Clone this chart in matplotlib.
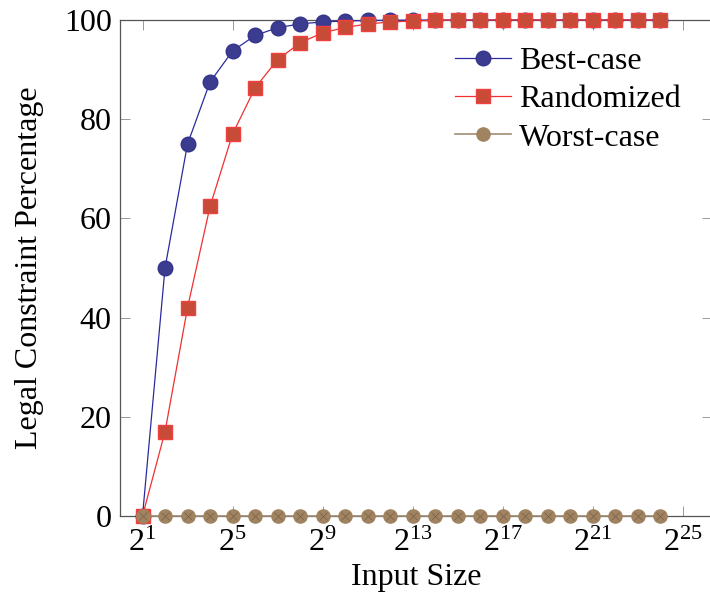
import numpy as np
import matplotlib
matplotlib.use("Agg")
import matplotlib.pyplot as plt

plt.rcParams['font.family'] = ['Liberation Serif', 'DejaVu Serif']
plt.rcParams['mathtext.fontset'] = 'custom'
plt.rcParams['mathtext.rm'] = 'Liberation Serif'
plt.rcParams['mathtext.it'] = 'Liberation Serif:italic'

# Data (x = 2^1 ... 2^24)
exponents = list(range(1, 25))
best_case = [0, 50, 75, 87.5, 93.75, 96.88, 98.44, 99.22, 99.61, 99.80, 99.90, 99.95,
             99.98, 99.99, 100, 100, 100, 100, 100, 100, 100, 100, 100, 100]
randomized = [0, 17.0, 42.0, 62.4, 77.0, 86.3, 92.0, 95.4, 97.4, 98.5, 99.2, 99.6,
              99.8, 99.9, 100, 100, 100, 100, 100, 100, 100, 100, 100, 100]
worst_case = [0] * 24
x = [2.0 ** e for e in exponents]

tick_exps = [1, 5, 9, 13, 17, 21, 25]

fig = plt.figure(figsize=(7.1, 5.98), dpi=100)
ax = fig.add_axes([120 / 710, 82 / 598, 592 / 710, 496 / 598])

ax.plot(x, best_case, color='#2b2b9e', lw=0.9, marker='o', ms=10.5,
        mfc='#3b3b90', mec='#34348a', clip_on=False, zorder=3, label='Best-case')
ax.plot(x, randomized, color='#f03030', lw=0.9, marker='s', ms=9.5,
        mfc='#c84b38', mec='#f04040', mew=1.0, clip_on=False, zorder=4, label='Randomized')
ax.plot(x, worst_case, color='#a08c74', lw=1.2, marker='o', ms=9.5,
        mfc='#a08462', mec='#a08462', clip_on=False, zorder=5, label='Worst-case')
ax.plot(x, worst_case, ls='none', marker='x', ms=6, mec='#806448', mew=0.6,
        clip_on=False, zorder=6)

ax.set_xscale('log', base=2)
ax.set_xlim(2.0 ** 0, 2.0 ** 26.3)
ax.set_ylim(0, 100)
ax.set_xticks([2.0 ** e for e in tick_exps])
ax.set_xticklabels(['$2^{%d}$' % e for e in tick_exps])
ax.minorticks_off()
ax.set_yticks([0, 20, 40, 60, 80, 100])

for s in ax.spines.values():
    s.set_color('#555555')
    s.set_linewidth(0.9)
ax.tick_params(direction='in', top=True, right=True, length=7, width=0.7,
               color='#999999', labelsize=23)
ax.tick_params(axis='x', pad=9)
ax.tick_params(axis='y', pad=6)

ax.set_xlabel('Input Size', fontsize=23, labelpad=4)
ax.set_ylabel('Legal Constraint Percentage', fontsize=23, labelpad=14)

handles, labels = ax.get_legend_handles_labels()
ax.legend(handles, labels, loc='upper right', bbox_to_anchor=(0.98, 0.985),
          frameon=False, fontsize=23, handlelength=1.75, handletextpad=0.25,
          labelspacing=0.28, borderaxespad=0.2)

fig.savefig('out.png', dpi=100)
